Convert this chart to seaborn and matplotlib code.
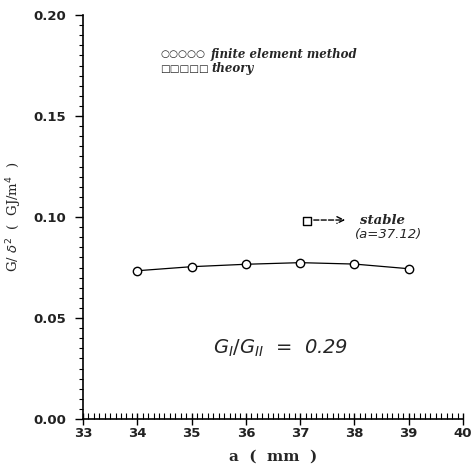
import matplotlib
matplotlib.use("Agg")
import matplotlib.pyplot as plt
from matplotlib.ticker import MultipleLocator
import seaborn as sns
import pandas as pd

# data
a_mm = [34, 35, 36, 37, 38, 39]
g_fem = [0.0734, 0.0754, 0.0766, 0.0774, 0.0767, 0.0744]
a_theory = [37.12]
g_theory = [0.098]
xticks = [33, 34, 35, 36, 37, 38, 39, 40]
yticks = [0.00, 0.05, 0.10, 0.15, 0.20]

sns.set_theme(style="ticks")
plt.rcParams['font.family'] = ['DejaVu Sans']

fig = plt.figure(figsize=(4.71, 4.74), dpi=100)
ax = fig.add_axes([83/471, 1-419/474, (463-83)/471, (419-15)/474])

df = pd.DataFrame({"a": a_mm, "g": g_fem})
sns.lineplot(data=df, x="a", y="g", ax=ax, color="black", lw=0.9,
             marker="o", markersize=6, markerfacecolor="white",
             markeredgecolor="black", markeredgewidth=1.0)
dft = pd.DataFrame({"a": a_theory, "g": g_theory})
sns.scatterplot(data=dft, x="a", y="g", ax=ax, marker="s", s=28,
                facecolor="white", edgecolor="black", linewidth=1.0, zorder=5)

ax.set_xlim(33, 40)
ax.set_ylim(0, 0.20)
ax.set_xticks(xticks)
ax.set_yticks(yticks)
ax.set_xticklabels([str(v) for v in xticks])
ax.set_yticklabels([f"{v:.2f}" for v in yticks])
ax.xaxis.set_minor_locator(MultipleLocator(0.1))
ax.yaxis.set_minor_locator(MultipleLocator(0.005))
ax.tick_params(axis="x", which="major", direction="inout", length=8, width=1, labelsize=9.5, pad=2, color="black")
ax.tick_params(axis="x", which="minor", direction="in", length=4, width=0.8, color="black")
ax.tick_params(axis="y", which="major", direction="out", length=6, width=1, labelsize=9.5, pad=6, color="black")
ax.tick_params(axis="y", which="minor", direction="out", length=3, width=0.8, color="black")
for lab in ax.get_xticklabels() + ax.get_yticklabels():
    lab.set_fontweight("bold")
    lab.set_color("#222222")
sns.despine(ax=ax)
for s in ("left", "bottom"):
    ax.spines[s].set_linewidth(1.2)
    ax.spines[s].set_color("black")

ax.set_xlabel("a  (  mm  )", fontsize=11, family="DejaVu Serif", weight="bold", labelpad=7)
ax.set_ylabel(r"G/ $\delta^2$  (  GJ/m$^4$  )", fontsize=9.5, family="DejaVu Serif")
ax.yaxis.set_label_coords(-0.155, 0.5)

# legend-like text
ax.text(34.42, 0.1805, "○○○○○", fontsize=7.5, va="center", ha="left", family="DejaVu Sans")
ax.text(35.36, 0.1805, "finite element method", fontsize=8.5, style="italic", weight="bold",
        va="center", ha="left", family="DejaVu Serif")
ax.text(34.42, 0.1735, "□□□□□", fontsize=7.5, va="center", ha="left", family="DejaVu Sans")
ax.text(35.36, 0.1735, "theory", fontsize=8.5, style="italic", weight="bold",
        va="center", ha="left", family="DejaVu Serif")

# stable annotation
ax.annotate("", xy=(37.88, 0.0985), xytext=(37.2, 0.0985),
            arrowprops=dict(arrowstyle="->", linestyle="--", color="black", lw=1.0))
ax.text(38.1, 0.0985, "stable", fontsize=9.5, style="italic", weight="bold",
        va="center", ha="left", family="DejaVu Serif")
ax.text(38.01, 0.0915, "(a=37.12)", fontsize=9.5, style="italic",
        va="center", ha="left", family="DejaVu Sans")

ax.text(35.4, 0.0350, r"$G_I/G_{II}$  =  0.29", fontsize=14, style="italic",
        va="center", ha="left", family="DejaVu Sans")

fig.savefig("out.png", dpi=100)
